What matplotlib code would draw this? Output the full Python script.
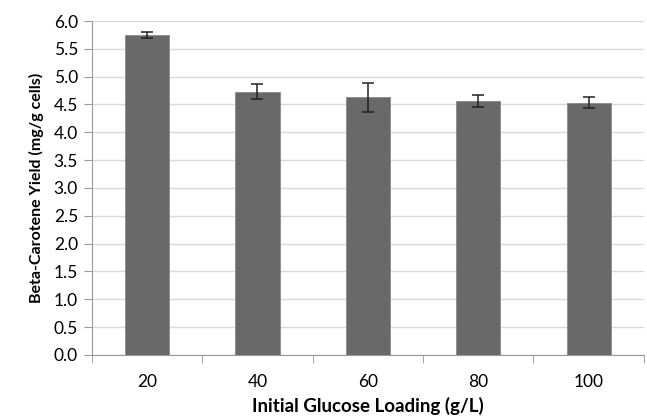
import numpy as np
import matplotlib.pyplot as plt

# glucose loading vs beta-carotene yield
glucose = ['20', '40', '60', '80', '100']
yield_mg = [5.75, 4.73, 4.63, 4.56, 4.53]
err = [0.05, 0.13, 0.26, 0.11, 0.10]

plt.rcParams['font.family'] = ['Lato', 'DejaVu Sans']

fig = plt.figure(figsize=(6.47, 4.2), dpi=100)
ax = fig.add_axes([0.142, 0.155, 0.853, 0.795])

x = np.arange(len(glucose))
ax.bar(x, yield_mg, width=0.4, color='#696969', edgecolor='#8a8a8a', linewidth=0.6, zorder=3)
ax.errorbar(x, yield_mg, yerr=err, fmt='none', ecolor='#222222', elinewidth=1.1,
            capsize=4, capthick=1.1, zorder=4)

ax.set_xlim(-0.5, len(glucose) - 0.5)
ax.set_ylim(0, 6.0)
ax.set_yticks(np.arange(0, 6.01, 0.5))
ax.set_yticklabels(['%.1f' % v for v in np.arange(0, 6.01, 0.5)], fontsize=12.5)
ax.set_xticks(x)
ax.set_xticklabels(glucose, fontsize=12.5)
ax.set_xticks(np.arange(-0.5, len(glucose), 1), minor=True)
ax.tick_params(axis='x', which='major', length=0, pad=14)
ax.tick_params(axis='x', which='minor', length=6, color='#999999', direction='out')
ax.tick_params(axis='y', length=6, color='#999999', direction='out', pad=4)

ax.yaxis.grid(True, color='#d9d9d9', linewidth=1.0, zorder=0)
for s in ['top', 'right']:
    ax.spines[s].set_visible(False)
ax.spines['left'].set_color('#999999')
ax.spines['bottom'].set_color('#999999')

ax.set_ylabel('Beta-Carotene Yield (mg/g cells)', fontsize=11.5, fontweight='bold', labelpad=7)
ax.set_xlabel('Initial Glucose Loading (g/L)', fontsize=13.5, fontweight='bold', labelpad=5)

plt.savefig('out.png', dpi=100)
